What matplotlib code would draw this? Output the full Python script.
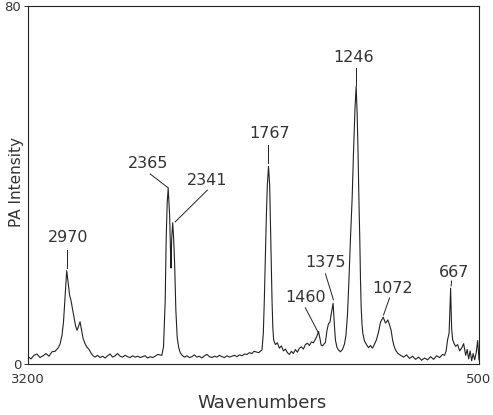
import matplotlib
matplotlib.use("Agg")
import matplotlib.pyplot as plt

# spectrum trace (wavenumber, PA intensity)
wavenumber = [
    3200, 3184, 3166, 3148, 3130, 3112, 3094, 3076, 3058, 3040, 3022, 3010, 2998,
    2989, 2980, 2970, 2962, 2953, 2944, 2935, 2926, 2917, 2908, 2899, 2890, 2881,
    2872, 2860, 2848, 2836, 2824, 2812,
    2800, 2785, 2770, 2755, 2740, 2725, 2710, 2695, 2680, 2665, 2650, 2635, 2620,
    2605, 2590, 2575, 2560, 2545, 2530, 2515, 2500, 2485, 2470, 2455, 2440, 2425,
    2400, 2390, 2380, 2374, 2368, 2362, 2353, 2348, 2345, 2341, 2335, 2329, 2323,
    2316, 2308, 2299, 2290, 2278,
    2265, 2250, 2235, 2220, 2205, 2190, 2175, 2160, 2145, 2130, 2115, 2100, 2085,
    2070, 2055, 2040, 2025, 2010, 1995, 1980, 1965, 1950, 1935, 1920, 1905, 1890,
    1875, 1860, 1848, 1820, 1800, 1792, 1786, 1780, 1774, 1768, 1761, 1754, 1750,
    1744, 1740, 1735, 1730, 1720, 1708, 1696, 1684, 1672, 1660, 1648, 1636, 1624,
    1612, 1600, 1588, 1576, 1564, 1552, 1540, 1528, 1516, 1504, 1492, 1480, 1471,
    1461, 1453, 1446, 1438, 1429, 1420, 1411, 1402, 1393, 1384, 1374, 1366, 1360,
    1351, 1342, 1330, 1318, 1306, 1297, 1288, 1280, 1270, 1260, 1252, 1243, 1236,
    1230, 1225, 1219, 1214, 1210, 1206, 1201, 1196, 1186, 1174, 1162, 1150, 1138,
    1126, 1114, 1102, 1090, 1074, 1060, 1046, 1036, 1026, 1018, 1010, 1000, 988,
    970, 952, 934, 916, 898, 880, 862, 844, 826, 808, 790, 772, 754, 736, 718, 706,
    697, 688, 679, 670, 664, 658, 649, 640, 628, 616, 604, 592, 580, 571, 562, 553,
    544, 535, 526, 517, 508, 500,
]
intensity = [
    1.7, 1.2, 2.0, 2.3, 1.5, 1.9, 2.4, 1.8, 2.8, 2.9, 3.6, 4.5, 6.5,
    9.5, 15.0, 20.9, 18.5, 15.5, 14.2, 12.3, 10.5, 8.6, 7.6, 8.5, 9.5, 7.6,
    5.8, 4.6, 3.8, 3.3, 2.5, 1.9,
    1.6, 2.0, 1.5, 1.8, 1.4, 1.9, 2.3, 1.6, 1.9, 2.4, 1.8, 1.6, 2.0,
    1.7, 1.5, 1.9, 1.6, 1.8, 1.5, 1.7, 1.9, 1.4, 1.7, 1.5, 1.8, 2.2,
    2.0, 3.9, 14.0, 28.0, 36.0, 39.3, 33.0, 25.0, 21.5, 28.0, 31.6, 28.0, 22.0,
    12.0, 6.0, 3.7, 2.6, 2.0,
    1.6, 1.9, 1.5, 1.7, 2.1, 1.6, 1.8, 1.4, 1.9, 2.2, 1.7, 1.5, 1.8,
    1.6, 2.0, 1.7, 1.5, 1.9, 1.6, 1.8, 2.0, 1.7, 2.1, 1.9, 2.3, 2.2,
    2.6, 2.4, 2.9, 2.6, 3.2, 7.0, 14.4, 24.0, 33.0, 40.0, 44.2, 40.0, 33.0,
    22.0, 14.4, 8.0, 5.4, 4.4, 4.8, 3.6, 4.1, 3.0, 3.4, 2.6, 2.2, 2.9,
    2.4, 3.3, 2.7, 3.6, 3.9, 3.4, 4.4, 4.7, 4.2, 5.0, 4.8, 5.6, 6.3,
    7.3, 5.8, 4.3, 4.1, 4.5, 4.9, 7.5, 9.0, 9.4, 11.5, 13.6, 8.5, 5.4,
    3.8, 3.2, 2.8, 3.3, 4.5, 6.5, 11.0, 18.0, 28.0, 37.0, 47.0, 57.0, 62.1,
    56.0, 48.0, 36.0, 27.7, 19.0, 12.9, 9.0, 6.9, 5.2, 4.4, 3.7, 4.2, 3.6,
    4.5, 5.5, 7.2, 9.4, 10.5, 9.2, 9.9, 8.8, 7.5, 5.5, 4.2, 3.2, 2.5,
    2.0, 1.6, 2.1, 1.3, 1.8, 1.1, 1.6, 0.9, 1.4, 1.0, 1.7, 1.1, 1.9, 1.5, 2.2, 2.0,
    3.0, 5.5, 7.0, 17.0, 8.0, 5.5, 4.6, 4.0, 4.4, 3.0, 3.6, 4.6, 2.0, 3.3, 1.2, 3.0,
    0.8, 2.4, 1.0, 2.5, 5.3, 1.0,
]

# peak labels: text, peak point, line start, text centre
peak_labels = ["2970", "2365", "2341", "1767", "1246", "1375", "1460", "1072", "667"]
peak_x = [2970, 2362, 2320, 1762, 1236, 1372, 1462, 1072, 667]
peak_y = [21.5, 39.4, 31.8, 44.9, 62.3, 14.4, 7.0, 11.0, 17.5]
line_x = [2970, 2470, 2127, 1762, 1236, 1420, 1540, 1036, 664]
line_y = [25.5, 42.5, 38.9, 48.9, 66.1, 20.2, 12.6, 14.8, 18.6]
text_x = [2962, 2482, 2130, 1755, 1252, 1420, 1540, 1018, 652]
text_y = [28.2, 44.9, 41.1, 51.6, 68.6, 22.8, 15.0, 17.0, 20.6]

ink = "#222222"
txt = "#333333"

fig = plt.figure(figsize=(4.93, 4.15), dpi=100)
ax = fig.add_axes([0.0574, 0.1222, 0.9142, 0.8633])

ax.plot(wavenumber, intensity, color=ink, lw=0.8)

for i in range(len(peak_labels)):
    ax.plot([line_x[i], peak_x[i]], [line_y[i], peak_y[i]], color=ink, lw=0.7)
    ax.text(text_x[i], text_y[i], peak_labels[i], ha="center", va="center",
            fontsize=11.5, color=txt)

ax.set_xlim(3200, 500)
ax.set_ylim(0, 80)
ax.set_xticks([3200, 500])
ax.set_xticklabels(["3200", "500"])
ax.set_yticks([0, 80])
ax.set_yticklabels(["0", "80"])
ax.tick_params(axis="both", labelsize=9.5, colors=txt, length=3, width=0.7, pad=2)
ax.tick_params(axis="x", length=0, pad=6)
for s in ax.spines.values():
    s.set_color(ink)
    s.set_linewidth(0.8)

ax.set_xlabel("Wavenumbers", fontsize=13, color=txt)
ax.xaxis.set_label_coords(0.519, -0.083)
ax.set_ylabel("PA Intensity", fontsize=11, color=txt, va="center")
ax.yaxis.set_label_coords(-0.027, 0.509)

fig.savefig("out.png", dpi=100)
